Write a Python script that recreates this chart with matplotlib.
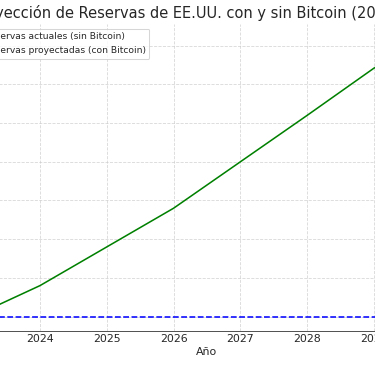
import matplotlib
matplotlib.use("Agg")
import matplotlib.pyplot as plt
from matplotlib.ticker import MultipleLocator

years = [2023, 2024, 2025, 2026, 2027, 2028, 2029, 2030]
reservas_actuales = [200, 200, 200, 200, 200, 200, 200, 200]
reservas_proyectadas = [200, 220, 245, 270, 300, 330, 360.5, 380]

title = "Proyección de Reservas de EE.UU. con y sin Bitcoin (2023-2030)"
label_actual = "Reservas actuales (sin Bitcoin)"
label_proy = "Reservas proyectadas (con Bitcoin)"

TEXT = "#262626"
plt.rcParams.update({
    "text.color": TEXT,
    "axes.labelcolor": TEXT,
    "xtick.color": TEXT,
    "ytick.color": TEXT,
})

DPI = 75
fig = plt.figure(figsize=(375 / DPI, 366 / DPI), dpi=DPI)
W, H = 375, 366
left_px, right_px = -50.2, 464.2
top_px, bottom_px = 24, 330.5
ax = fig.add_axes([left_px / W, (H - bottom_px) / H,
                   (right_px - left_px) / W, (bottom_px - top_px) / H])

ax.plot(years, reservas_actuales, color="blue", linestyle="--", linewidth=1.5, label=label_actual)
ax.plot(years, reservas_proyectadas, color="green", linewidth=1.5, label=label_proy)
ax.yaxis.set_major_locator(MultipleLocator(25))
ax.set_xticks(years)
ax.tick_params(length=0, labelsize=10.5)
ax.set_title(title, fontsize=14)
ax.set_xlabel("Año", fontsize=10.5, labelpad=3)
ax.set_ylabel("Reservas (miles de millones USD)", fontsize=10.5)
ax.grid(True, linestyle="--", color="#c8c8c8", alpha=0.7, linewidth=0.8)
for s in ("top", "right"):
    ax.spines[s].set_visible(False)
ax.spines["bottom"].set_color("#333333")
ax.spines["left"].set_color("#333333")
ax.legend(loc="upper left", fontsize=8.8)

fig.savefig("out.png", dpi=DPI)
